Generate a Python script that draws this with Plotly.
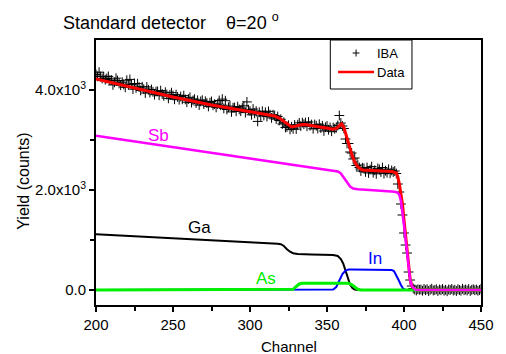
import plotly.graph_objects as go

# ---------------- data ----------------
iba_ch = list(range(200, 451))
iba_val = [
    # 200-209
    4310, 4273, 4356, 4268, 4231, 4264, 4207, 4230, 4272, 4195,
    # 210-219
    4198, 4101, 4154, 4236, 4189, 4132, 4095, 4158, 4110, 4053,
    # 220-229
    4196, 4109, 4212, 4114, 4017, 4130, 4043, 4126, 4058, 3991,
    # 230-239
    4064, 4017, 3940, 4062, 4005, 3948, 4011, 3964, 3906, 3969,
    # 240-249
    3972, 3895, 3988, 3920, 3883, 3956, 3909, 3832, 3904, 3947,
    # 250-259
    3890, 3814, 3908, 3862, 3806, 3870, 3814, 3888, 3812, 3756,
    # 260-269
    3820, 3854, 3748, 3792, 3816, 3740, 3794, 3698, 3772, 3796,
    # 270-279
    3720, 3774, 3738, 3672, 3746, 3770, 3694, 3718, 3652, 3716,
    # 280-289
    3790, 3694, 3818, 3632, 3786, 3610, 3654, 3678, 3562, 3646,
    # 290-299
    3650, 3574, 3668, 3612, 3576, 3640, 3684, 3548, 3762, 3606,
    # 300-309
    3580, 3504, 3619, 3533, 3578, 3372, 3556, 3481, 3575, 3490,
    # 310-315
    3554, 3468, 3573, 3507, 3442, 3506,
    # 316-327
    3490, 3420, 3470, 3390, 3415, 3320, 3355, 3250, 3260, 3295, 3212, 3265,
    # 328-335
    3222, 3300, 3218, 3305, 3343, 3280, 3348, 3315,
    # 336-355
    3350, 3275, 3360, 3285, 3310, 3225, 3310, 3285, 3230, 3315,
    3240, 3285, 3180, 3255, 3280, 3205, 3250, 3175, 3250, 3225,
    # 356-362
    3245, 3290, 3490, 3340, 3280, 3230, 3020,
    # 363-373
    2930, 2930, 2760, 2740, 2620, 2640, 2490, 2500, 2450, 2380, 2445,
    # 374-393
    2433, 2362, 2451, 2340, 2409, 2468, 2346, 2395, 2324, 2433,
    2412, 2361, 2449, 2328, 2387, 2346, 2415, 2334, 2392, 2360,
    # 394-410
    2380, 2330, 2120, 1960, 1720, 1500, 1140, 900, 740, 360,
    200, 80, 30, 10, -10, 15, 5,
    # 411-450
    10, -15, 20, -5, 15, -20, 5, 25, -10, 0,
    15, -20, 10, -5, 20, -15, 5, -25, 10, 0,
    20, -10, 5, -20, 15, 0, -15, 25, -5, 10,
    -10, 20, -20, 5, 15, -5, 10, -15, 0, 20,
]
assert len(iba_val) == len(iba_ch), len(iba_val)

data_ch = [200, 225, 250, 275, 300, 316, 319, 322, 325, 327, 330, 333, 336, 345,
           354, 356, 358, 359.5, 361, 362.5, 364, 366, 368, 370, 373, 380, 392,
           395, 396, 397, 398, 399, 400, 401, 402, 403, 404, 405, 406, 407, 408,
           410, 450]
data_val = [4220, 4040, 3860, 3700, 3560, 3480, 3440, 3370, 3290, 3260, 3280, 3305,
            3310, 3265, 3215, 3230, 3290, 3320, 3250, 3080, 2900, 2720, 2560, 2460,
            2400, 2385, 2370, 2340, 2260, 2120, 1940, 1720, 1400, 1080, 740, 420,
            210, 90, 35, 12, 4, 0, 0]

sb_ch = [200, 250, 300, 340, 354, 357, 359, 361, 363, 365, 367, 370, 380, 394,
         396, 397, 398, 399, 400, 401, 402, 403, 404, 405, 406, 407, 408, 410, 450]
sb_val = [3085, 2855, 2625, 2445, 2390, 2370, 2330, 2240, 2140, 2070, 2030, 2015,
          1995, 1965, 1945, 1900, 1780, 1580, 1300, 1020, 720, 420, 200, 85, 35,
          12, 3, 0, 0]

ga_ch = [200, 250, 300, 318, 320, 322, 324, 326, 328, 331, 340, 354, 357, 359,
         360.5, 362, 363.5, 365, 366.5, 368, 370, 450]
ga_val = [1115, 1040, 960, 925, 915, 880, 815, 765, 735, 722, 712, 700, 680, 620,
          530, 400, 240, 110, 40, 10, 0, 0]

in_ch = [200, 352, 354, 356, 358, 360, 362, 364, 366, 380, 392, 393.5, 395,
         396.5, 398, 399.5, 401, 450]
in_val = [0, 0, 10, 60, 200, 320, 390, 410, 412, 405, 400, 380, 300, 200, 100,
          25, 0, 0]

as_ch = [200, 326, 328, 330, 332, 334, 364, 366, 368, 370, 372, 450]
as_val = [0, 0, 15, 70, 120, 133, 133, 110, 60, 15, 0, 0]

x_ticks = [200, 250, 300, 350, 400, 450]
y_ticks = [0, 2000, 4000]
y_ticktext = ["0.0", "2.0x10<sup>3</sup>", "4.0x10<sup>3</sup>"]

FONT = "Liberation Sans, Arial, sans-serif"

fig = go.Figure()
fig.add_trace(go.Scatter(
    x=iba_ch, y=iba_val, mode="markers", name="IBA", showlegend=False,
    marker=dict(symbol="cross-thin", size=7, color="black",
                line=dict(color="black", width=1)),
))
fig.add_trace(go.Scatter(x=data_ch, y=data_val, mode="lines", name="Data",
                         showlegend=False, line=dict(color="#ff0000", width=3)))
fig.add_trace(go.Scatter(x=ga_ch, y=ga_val, mode="lines", showlegend=False,
                         line=dict(color="black", width=2)))
fig.add_trace(go.Scatter(x=in_ch, y=in_val, mode="lines", showlegend=False,
                         line=dict(color="#0000ff", width=2)))
fig.add_trace(go.Scatter(x=as_ch, y=as_val, mode="lines", showlegend=False,
                         line=dict(color="#00ee00", width=3)))
fig.add_trace(go.Scatter(x=sb_ch, y=sb_val, mode="lines", showlegend=False,
                         line=dict(color="#ff00ff", width=2.5)))

labels = [("Sb", 240.4, 3090, "#ff00ff"), ("Ga", 267.5, 1246, "black"),
          ("As", 310.5, 229, "#00ee00"), ("In", 381, 628, "#0000ff")]
for t, xx, yy, c in labels:
    fig.add_annotation(x=xx, y=yy, xref="x", yref="y", text=t, showarrow=False,
                       font=dict(family=FONT, size=17, color=c))

fig.add_annotation(x=-0.0909, y=1.068, xref="paper", yref="paper", xanchor="left",
                   yanchor="middle", showarrow=False,
                   text="Standard detector\u00a0\u00a0\u00a0\u00a0θ=20 <sup>o</sup>",
                   font=dict(family=FONT, size=18, color="black"))
fig.add_annotation(x=-0.189, y=0.466, xref="paper", yref="paper", textangle=-90,
                   xanchor="center", yanchor="middle",
                   showarrow=False, text="Yield (counts)",
                   font=dict(family=FONT, size=16, color="black"))
fig.add_annotation(x=0.5025, y=-0.157, xref="paper", yref="paper", showarrow=False,
                   xanchor="center", yanchor="middle",
                   text="Channel", font=dict(family=FONT, size=15, color="black"))

# ---- hand-built legend (box, symbols, texts) in paper coordinates ----
def px2x(p):
    return (p - 96) / 396.0

def py2y(p):
    return (305 - p) / 265.0

shapes = [
    dict(type="rect", xref="paper", yref="paper", x0=px2x(337), x1=px2x(421),
         y0=py2y(89), y1=py2y(40), line=dict(color="black", width=1),
         fillcolor="white", layer="above"),
    dict(type="line", xref="paper", yref="paper", x0=px2x(360), x1=px2x(367),
         y0=py2y(53), y1=py2y(53), line=dict(color="black", width=1), layer="above"),
    dict(type="line", xref="paper", yref="paper", x0=px2x(363.5), x1=px2x(363.5),
         y0=py2y(49.5), y1=py2y(56.5), line=dict(color="black", width=1), layer="above"),
    dict(type="line", xref="paper", yref="paper", x0=px2x(345), x1=px2x(382),
         y0=py2y(72), y1=py2y(72), line=dict(color="#ff0000", width=2.5), layer="above"),
]
fig.add_annotation(x=px2x(383), y=py2y(53), xref="paper", yref="paper",
                   xanchor="left", yanchor="middle", showarrow=False, text="IBA",
                   font=dict(family=FONT, size=13, color="black"))
fig.add_annotation(x=px2x(383), y=py2y(72), xref="paper", yref="paper",
                   xanchor="left", yanchor="middle", showarrow=False, text="Data",
                   font=dict(family=FONT, size=13, color="black"))

fig.update_xaxes(range=[200, 450], tickvals=x_ticks, ticks="outside", ticklen=5,
                 tickwidth=1.5, tickcolor="black", showline=True, linecolor="black",
                 linewidth=2, mirror=True, showgrid=False, zeroline=False,
                 tickfont=dict(family=FONT, size=15, color="black"),
                 minor=dict(tickvals=[225, 275, 325, 375, 425], ticks="outside",
                            ticklen=4, tickcolor="black", tickwidth=1.5))
fig.update_yaxes(range=[-300, 5000], tickvals=y_ticks, ticktext=y_ticktext,
                 ticks="outside", ticklen=5, tickwidth=1.5, tickcolor="black",
                 showline=True, linecolor="black", linewidth=2, mirror=True,
                 showgrid=False, zeroline=False,
                 tickfont=dict(family=FONT, size=15, color="black"),
                 minor=dict(tickvals=[1000, 3000], ticks="outside", ticklen=4,
                            tickcolor="black", tickwidth=1.5))

fig.update_layout(
    width=506, height=354,
    margin=dict(l=96, r=14, t=40, b=49),
    paper_bgcolor="white", plot_bgcolor="white",
    font=dict(family=FONT, color="black"),
    showlegend=False,
    shapes=shapes,
)

fig.write_html("out.html")
